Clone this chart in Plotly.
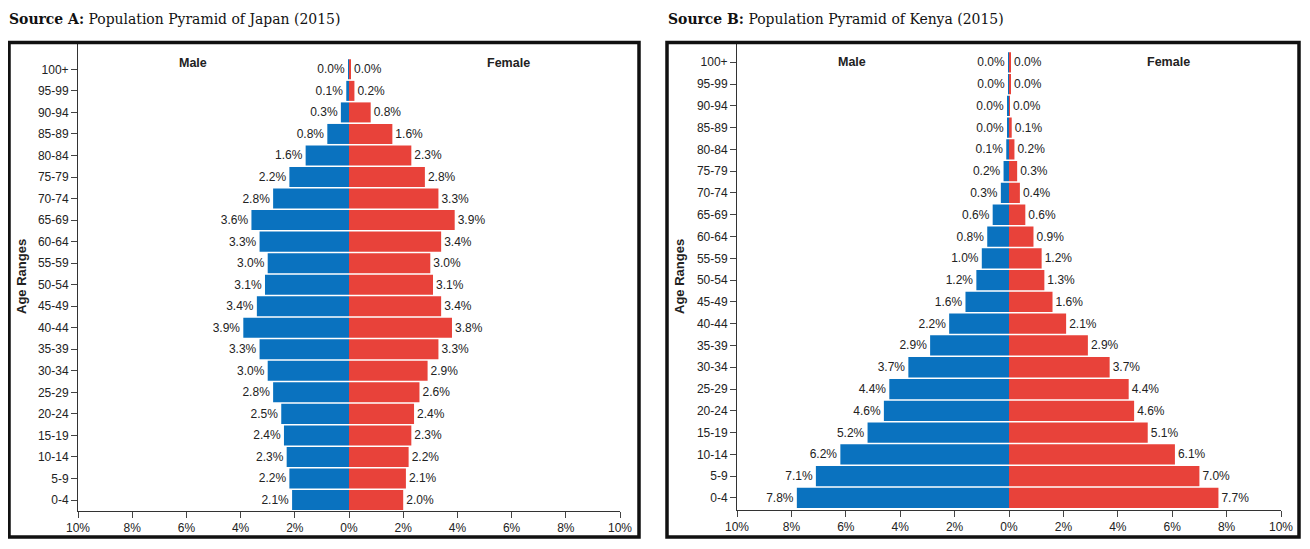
import plotly.graph_objects as go

W, H = 1310, 549
OFF = 8                      # page body margin
FW, FH = W - 2 * OFF, H - 2 * OFF

age_groups = ["0-4", "5-9", "10-14", "15-19", "20-24", "25-29", "30-34", "35-39",
              "40-44", "45-49", "50-54", "55-59", "60-64", "65-69", "70-74",
              "75-79", "80-84", "85-89", "90-94", "95-99", "100+"]

japan_male = [2.1, 2.2, 2.3, 2.4, 2.5, 2.8, 3.0, 3.3, 3.9, 3.4, 3.1, 3.0, 3.3, 3.6,
              2.8, 2.2, 1.6, 0.8, 0.3, 0.1, 0.004]
japan_female = [2.0, 2.1, 2.2, 2.3, 2.4, 2.6, 2.9, 3.3, 3.8, 3.4, 3.1, 3.0, 3.4, 3.9,
                3.3, 2.8, 2.3, 1.6, 0.8, 0.2, 0.04]

kenya_male = [7.8, 7.1, 6.2, 5.2, 4.6, 4.4, 3.7, 2.9, 2.2, 1.6, 1.2, 1.0, 0.8, 0.6,
              0.3, 0.2, 0.1, 0.04, 0.04, 0.01, 0.02]
kenya_female = [7.7, 7.0, 6.1, 5.1, 4.6, 4.4, 3.7, 2.9, 2.1, 1.6, 1.3, 1.2, 0.9, 0.6,
                0.4, 0.3, 0.2, 0.1, 0.01, 0.04, 0.04]

x_tickvals = [-10, -8, -6, -4, -2, 0, 2, 4, 6, 8, 10]
x_ticktext = ["10%", "8%", "6%", "4%", "2%", "0%", "2%", "4%", "6%", "8%", "10%"]

titles = ["<b>Source A:</b> Population Pyramid of Japan (2015)",
          "<b>Source B:</b> Population Pyramid of Kenya (2015)"]

BLUE = "#0a72bf"
RED = "#e8423a"
SANS = "Liberation Sans Narrow, Arial Narrow, Liberation Sans, Arial, sans-serif"
SERIF = "DejaVu Serif Condensed, DejaVu Serif, serif"


def px(x):
    return (x - OFF) / FW


def py(y):
    return 1 - (y - OFF) / FH


fig = go.Figure()

panels = [
    dict(male=japan_male, female=japan_female, xa="x", ya="y",
         xdom=[px(78), px(620)], ydom=[py(511), py(42)], yrange=[-0.51, 21.27],
         box=(9, 42.5, 639, 537), title_x=8, label_y=20.3, axt_x=21),
    dict(male=kenya_male, female=kenya_female, xa="x2", ya="y2",
         xdom=[px(737), px(1281)], ydom=[py(509.5), py(42)], yrange=[-0.53, 20.93],
         box=(667, 42.5, 1299, 537), title_x=667, label_y=20.0, axt_x=679),
]

for i, p in enumerate(panels):
    fig.add_trace(go.Bar(
        y=age_groups, x=[-v for v in p["male"]], orientation="h",
        marker=dict(color=BLUE, line=dict(width=0)),
        text=[f"{v:.1f}%" for v in p["male"]], textposition="outside",
        textfont=dict(family=SANS, size=12, color="#222"),
        constraintext="none", cliponaxis=False,
        xaxis=p["xa"], yaxis=p["ya"], showlegend=False, name="Male"))
    fig.add_trace(go.Bar(
        y=age_groups, x=p["female"], orientation="h",
        marker=dict(color=RED, line=dict(width=0)),
        text=[f"{v:.1f}%" for v in p["female"]], textposition="outside",
        textfont=dict(family=SANS, size=12, color="#222"),
        constraintext="none", cliponaxis=False,
        xaxis=p["xa"], yaxis=p["ya"], showlegend=False, name="Female"))

    sfx = "" if i == 0 else "2"
    fig.update_layout({
        f"xaxis{sfx}": dict(domain=p["xdom"], range=[-10, 10], anchor=p["ya"],
                            tickvals=x_tickvals, ticktext=x_ticktext,
                            showgrid=False, zeroline=False, showline=True,
                            linecolor="#333", linewidth=1, ticks="outside",
                            ticklen=6, tickcolor="#444", automargin=False,
                            tickfont=dict(family=SANS, size=12, color="#222"),
                            fixedrange=True),
        f"yaxis{sfx}": dict(domain=p["ydom"], range=p["yrange"], anchor=p["xa"],
                            type="category", categoryorder="array",
                            categoryarray=age_groups,
                            showgrid=False, zeroline=False, showline=True,
                            linecolor="#333", linewidth=1, ticks="outside",
                            ticklen=6, tickcolor="#444", automargin=False,
                            tickfont=dict(family=SANS, size=12, color="#222"),
                            fixedrange=True),
    })

    x0, y0, x1, y1 = p["box"]
    fig.add_shape(type="rect", xref="paper", yref="paper",
                  x0=px(x0), x1=px(x1), y0=py(y1), y1=py(y0),
                  line=dict(color="#111", width=3.5), fillcolor="rgba(0,0,0,0)")

    fig.add_annotation(xref="paper", yref="paper", x=px(p["title_x"]), y=1.0,
                       xanchor="left", yanchor="top", borderpad=0,
                       text=titles[i], showarrow=False,
                       font=dict(family=SERIF, size=15.5, color="#111"))
    fig.add_annotation(xref="paper", yref="paper", x=px(p["axt_x"]), y=py(277),
                       xanchor="center", yanchor="middle", text="<b>Age Ranges</b>",
                       textangle=-90, showarrow=False,
                       font=dict(family=SANS, size=13, color="#222"))
    fig.add_annotation(xref=p["xa"], yref=p["ya"], x=-5.77, y=p["label_y"],
                       text="<b>Male</b>", showarrow=False,
                       font=dict(family=SANS, size=12.5, color="#222"))
    fig.add_annotation(xref=p["xa"], yref=p["ya"], x=5.87, y=p["label_y"],
                       text="<b>Female</b>", showarrow=False,
                       font=dict(family=SANS, size=12.5, color="#222"))

fig.update_layout(
    width=FW, height=FH,
    margin=dict(l=0, r=0, t=0, b=0, pad=0, autoexpand=False),
    barmode="overlay", bargap=0.07,
    paper_bgcolor="white", plot_bgcolor="white",
)

fig.write_html("out.html", config={"displayModeBar": False})
